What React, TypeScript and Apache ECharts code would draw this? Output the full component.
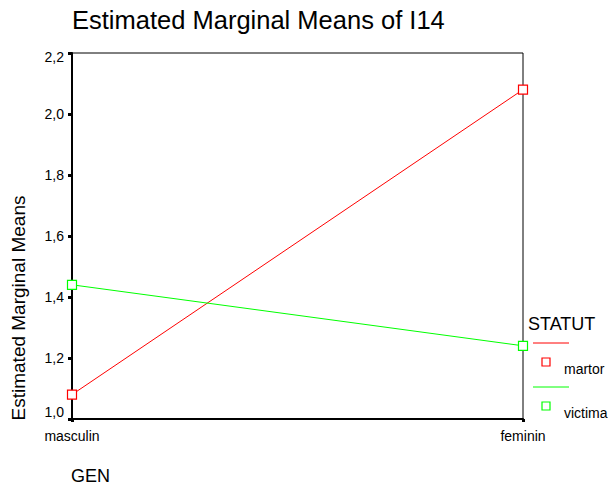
import React, { useEffect, useRef } from "react";
import * as echarts from "echarts";

const categories = ["masculin", "feminin"];
const martor = [1.08, 2.08];
const victima = [1.44, 1.24];
const seriesNames = ["martor", "victima"];
const colors = ["#ff0000", "#00ff00"];
const yMin = 1.0;
const yMax = 2.2;
const yInterval = 0.2;

const FONT = "Liberation Sans, Arial, sans-serif";

export default function App() {
  const ref = useRef<HTMLDivElement>(null);
  useEffect(() => {
    if (!ref.current) return;
    const chart = echarts.init(ref.current, null, { renderer: "svg" });
    const fmt = (v: number) => {
      const s = v.toFixed(1).replace(".", ",");
      if (Math.abs(v - yMax) < 1e-6) return "{top|" + s + "}";
      if (Math.abs(v - yMin) < 1e-6) return "{bot|" + s + "}";
      return "{mid|" + s + "}";
    };
    const labelRich = {
      top: { fontSize: 14, fontFamily: FONT, color: "#000", padding: [8, 0, 0, 0] },
      bot: { fontSize: 14, fontFamily: FONT, color: "#000", padding: [0, 0, 14, 0] },
      mid: { fontSize: 14, fontFamily: FONT, color: "#000" },
    };
    const mkSeries = (name: string, data: number[], color: string) => ({
      name,
      type: "line",
      data,
      symbol: "rect",
      symbolSize: 9,
      showSymbol: true,
      lineStyle: { color, width: 1 },
      itemStyle: { color: "#ffffff", borderColor: color, borderWidth: 1.2 },
      emphasis: { disabled: true },
      z: 3,
    });
    const legendY = [343, 387];
    const legendGraphics: any[] = [
      {
        type: "text",
        x: 528,
        y: 324,
        style: { text: "STATUT", font: `18px ${FONT}`, fill: "#000", verticalAlign: "middle" },
      },
    ];
    seriesNames.forEach((n, i) => {
      legendGraphics.push(
        {
          type: "line",
          shape: { x1: 533, y1: legendY[i], x2: 569, y2: legendY[i] },
          style: { stroke: colors[i], lineWidth: 1 },
        },
        {
          type: "rect",
          shape: { x: 542, y: legendY[i] + 15, width: 8, height: 8 },
          style: { fill: "#fff", stroke: colors[i], lineWidth: 1.2 },
        },
        {
          type: "text",
          x: 564,
          y: legendY[i] + 26,
          style: { text: n, font: `14px ${FONT}`, fill: "#000", verticalAlign: "middle" },
        }
      );
    });
    chart.setOption({
      animation: false,
      backgroundColor: "#ffffff",
      title: {
        text: "Estimated Marginal Means of I14",
        left: 72,
        top: 7,
        padding: 0,
        textStyle: { fontSize: 25.5, fontWeight: "normal", fontFamily: FONT, color: "#000" },
      },
      grid: {
        left: 72,
        top: 53,
        width: 451,
        height: 366,
        show: true,
        borderColor: "#000",
        borderWidth: 1,
        backgroundColor: "transparent",
      },
      xAxis: {
        type: "category",
        data: categories,
        boundaryGap: false,
        axisLine: { lineStyle: { color: "#000", width: 2 } },
        axisTick: { show: true, length: 3, lineStyle: { color: "#000", width: 3 } },
        axisLabel: { fontSize: 14, fontFamily: FONT, color: "#000", margin: 10 },
        splitLine: { show: false },
      },
      yAxis: {
        type: "value",
        min: yMin,
        max: yMax,
        interval: yInterval,
        axisLine: { show: true, lineStyle: { color: "#000", width: 2 } },
        axisTick: { show: true, length: 4, lineStyle: { color: "#000", width: 3 } },
        axisLabel: { formatter: fmt, rich: labelRich, fontSize: 14, fontFamily: FONT, color: "#000", margin: 8 },
        splitLine: { show: false },
      },
      series: [
        mkSeries(seriesNames[0], martor, colors[0]),
        mkSeries(seriesNames[1], victima, colors[1]),
      ],
      graphic: [
        {
          type: "text",
          x: 9,
          y: 308,
          rotation: Math.PI / 2,
          style: {
            text: "Estimated Marginal Means",
            font: `19px ${FONT}`,
            fill: "#000",
            align: "center",
            verticalAlign: "top",
          },
        },
        {
          type: "text",
          x: 71,
          y: 476,
          style: { text: "GEN", font: `18px ${FONT}`, fill: "#000", verticalAlign: "middle" },
        },
        ...legendGraphics,
      ],
    });
    return () => chart.dispose();
  }, []);
  return (
    <div
      ref={ref}
      style={{ position: "fixed", left: 0, top: 0, width: 608, height: 487 }}
    />
  );
}
